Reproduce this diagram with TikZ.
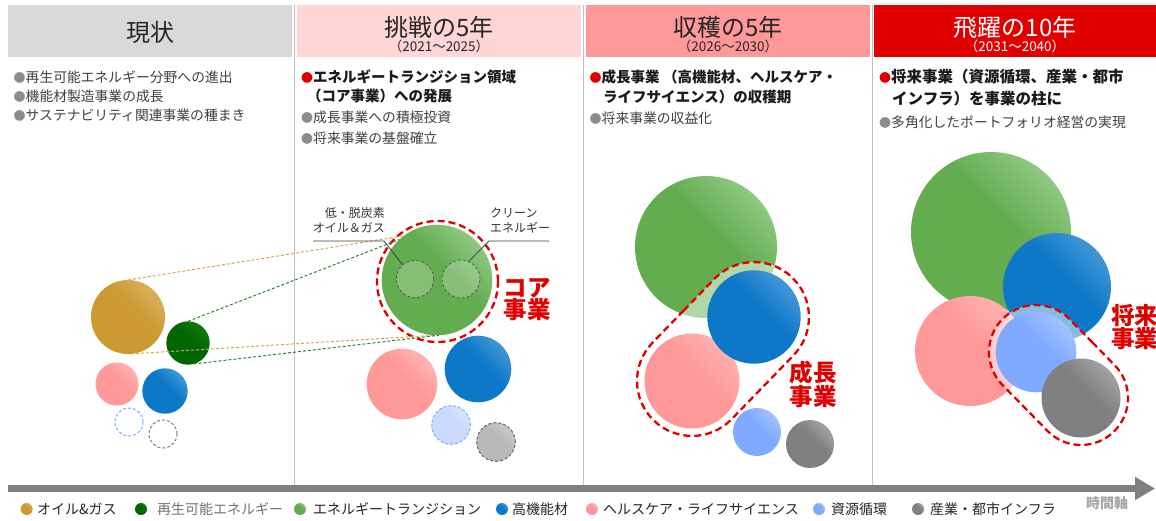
\documentclass[tikz,border=0pt]{standalone}
\usepackage{fontspec}
\setmainfont{Noto Sans CJK JP}
\usetikzlibrary{shapes.misc,arrows.meta}
\definecolor{cGold}{HTML}{CC9933}\definecolor{cGoldL}{HTML}{E8CC90}
\definecolor{cDg}{HTML}{006600}\definecolor{cDgL}{HTML}{279627}
\definecolor{cEt}{HTML}{63AD50}\definecolor{cEtL}{HTML}{C8EDC2}
\definecolor{cBl}{HTML}{0E78C8}\definecolor{cBlL}{HTML}{86C0EA}
\definecolor{cPk}{HTML}{FF9999}\definecolor{cPkL}{HTML}{FFD4D4}
\definecolor{cLb}{HTML}{7FAAFF}\definecolor{cLbL}{HTML}{D2E0FF}
\definecolor{cGy}{HTML}{808080}\definecolor{cGyL}{HTML}{CFCFCF}
\definecolor{cRed}{HTML}{E00000}
\definecolor{cH1}{HTML}{D9D9D9}\definecolor{cH2}{HTML}{FFD5D5}
\definecolor{cH3}{HTML}{FF9999}\definecolor{cH4}{HTML}{E00000}
\definecolor{cText}{HTML}{404040}\definecolor{cBold}{HTML}{1A1A1A}
\definecolor{cBul}{HTML}{8C8C8C}\definecolor{cSep}{HTML}{BFBFBF}
\colorlet{ballA}{cGold}\colorlet{ballB}{cGoldL}
\pgfdeclareverticalshading[ballA,ballB]{ballsh}{100bp}{color(0bp)=(ballA); color(56bp)=(ballA); color(100bp)=(ballB)}
\newcommand\setfs[1]{\fontsize{#1}{#1}\selectfont}
\newcommand\bulx[1]{{\color{#1}\fontsize{12}{12}\selectfont ●}}
\begin{document}
\begin{tikzpicture}[x=1pt,y=-1pt,
  ball/.style 2 args={circle, inner sep=0pt, outer sep=0pt, /utils/exec={\colorlet{ballA}{#1}\colorlet{ballB}{#2}}, shade, shading=ballsh, shading angle=-45},
  rad/.style={minimum size=2*#1},
  hbox/.style={rectangle, inner sep=0pt, minimum height=52, minimum width=284},
  htitle/.style={anchor=base, inner sep=0pt, font=\setfs{24}, text=black!85},
  hsub/.style={anchor=base, inner sep=0pt, font=\setfs{13.5}, text=black!85},
  txt/.style={anchor=base west, inner sep=0pt, text=cText, font=\setfs{13.8}},
  btxt/.style={anchor=base west, inner sep=0pt, text=cBold, font=\setfs{14.5}\bfseries},
  redlbl/.style={inner sep=0pt, text=cRed, align=center, font=\fontsize{23.5}{22}\selectfont\bfseries},
  smlbl/.style={inner sep=0pt, text=black!80, font=\fontsize{12}{15}\selectfont},
  reddash/.style={draw=cRed, line width=2.3pt, dash pattern=on 7pt off 4pt},
  capsule/.style={rounded rectangle, inner sep=0pt, reddash, fill=white, fill opacity=0.5},
  gline/.style={draw=cGold!85, line width=1pt, dash pattern=on 3pt off 2pt},
  grline/.style={draw=cDg!80, line width=1pt, dash pattern=on 3pt off 2pt},
  ldash/.style={dash pattern=on 3pt off 2pt, line width=1pt},
  legtxt/.style={anchor=base west, inner sep=0pt, text=black!85, font=\setfs{14}},
  sepline/.style={draw=cSep, line width=1pt}
]
\useasboundingbox (0,0) rectangle (1156,520);
\fill[white] (0,0) rectangle (1156,520);

% headers
\node[hbox, fill=cH1] (h1) at (150,31) {};
\node[hbox, fill=cH2] (h2) at (439,31) {};
\node[hbox, fill=cH3] (h3) at (728,31) {};
\node[hbox, fill=cH4, minimum width=282] (h4) at (1015,31) {};
\node[htitle] (ht1) at (150,41.5) {現状};
\node[htitle] (ht2) at (439,36.5) {挑戦の5年};
\node[hsub] (hs2) at (439,51.5) {（2021～2025）};
\node[htitle] (ht3) at (728,36.5) {収穫の5年};
\node[hsub] (hs3) at (728,51.5) {（2026～2030）};
\node[htitle, text=white] (ht4) at (1015,36.5) {飛躍の10年};
\node[hsub, text=white] (hs4) at (1015,51.5) {（2031～2040）};

% separators
\draw[sepline] (294,5) -- (294,485);
\draw[sepline] (583,5) -- (583,485);
\draw[sepline] (872,5) -- (872,485);

% column texts
\node[txt] (c1a) at (13.5,82.5) {\bulx{cBul}再生可能エネルギー分野への進出};
\node[txt] (c1b) at (13.5,101.5) {\bulx{cBul}機能材製造事業の成長};
\node[txt] (c1c) at (13.5,120.5) {\bulx{cBul}サステナビリティ関連事業の種まき};

\node[btxt] (c2a) at (301,82) {\bulx{cRed}エネルギートランジション領域};
\node[btxt] (c2b) at (307,101) {（コア事業）への発展};
\node[txt] (c2c) at (301,122) {\bulx{cBul}成長事業への積極投資};
\node[txt] (c2d) at (301,143) {\bulx{cBul}将来事業の基盤確立};

\node[btxt] (c3a) at (589.5,82) {\bulx{cRed}成長事業 （高機能材、ヘルスケア・};
\node[btxt] (c3b) at (603,102.5) {ライフサイエンス）の収穫期};
\node[txt] (c3c) at (589.5,123) {\bulx{cBul}将来事業の収益化};

\node[btxt, font=\setfs{15.5}\bfseries] (c4a) at (879,82.5) {\bulx{cRed}将来事業（資源循環、産業・都市};
\node[btxt, font=\setfs{15.5}\bfseries] (c4b) at (892,104) {インフラ）を事業の柱に};
\node[txt] (c4c) at (879,127) {\bulx{cBul}多角化したポートフォリオ経営の実現};

% column 1 circles
\node[ball={cGold}{cGoldL}, rad=37] (gold1) at (128,317) {};
\node[ball={cDg}{cDgL}, rad=21.7] (dg1) at (188,343) {};
\node[ball={cPk}{cPkL}, rad=21.5] (pk1) at (117,384) {};
\node[ball={cBl}{cBlL}, rad=22.7] (bl1) at (165,391) {};
\node[circle, inner sep=0pt, rad=14, draw=cLb, ldash] (lb1) at (129,422) {};
\node[circle, inner sep=0pt, rad=14, draw=cGy, ldash] (gy1) at (163,434) {};

% column 2 circles
\node[circle, inner sep=0pt, rad=60.5, reddash, fill=white] (core) at (437.5,281.5) {};
\node[ball={cEt}{cEtL}, rad=55.3] (g2) at (437,280) {};
\node[circle, inner sep=0pt, rad=18.7, draw=black!65, ldash, line width=0.8pt, fill=white, fill opacity=0.22] (sc1) at (415,279) {};
\node[circle, inner sep=0pt, rad=19, draw=black!65, ldash, line width=0.8pt, fill=white, fill opacity=0.22] (sc2) at (461,279) {};
\node[ball={cPk}{cPkL}, rad=35.3] (pk2) at (402,384) {};
\node[ball={cBl}{cBlL}, rad=33.3] (bl2) at (478,369) {};
\node[ball={cLbL!90!cLb}{cLbL!40}, rad=19.3, draw=cLb, ldash] (lb2) at (451,425) {};
\node[ball={cGy!55}{cGy!25}, rad=19.3, draw=black!60, ldash] (gy2) at (496,442) {};

% connectors col1 -> col2
\draw[gline] (gold1.north) -- (g2.127);
\draw[gline] (gold1.-85) -- (g2.-92);
\draw[grline] (dg1.north) -- (g2.133);
\draw[grline] (dg1.-75) -- (g2.-88);

% labels in col 2
\node[smlbl, align=right, anchor=east] (lab1) at (385,220.5) {低・脱炭素\\オイル＆ガス};
\node[smlbl, align=left, anchor=west] (lab2) at (490,220.5) {クリーン\\エネルギー};
\coordinate (u1s) at (313,241);
\coordinate (u1e) at (384,241);
\coordinate (u2s) at (549,241);
\coordinate (u2e) at (489,241);
\draw[black!75, line width=0.8pt] (u1s) -- (u1e) -- (sc1.131);
\draw[black!75, line width=0.8pt] (u2s) -- (u2e) -- (sc2.66);
\node[redlbl] (core-lbl) at (527,300) {コア\\事業};

% column 3
\node[ball={cEt}{cEtL}, rad=71] (g3) at (706,247) {};
\node[capsule, minimum width=199, minimum height=110, rotate=45.9] (cap3) at (723,349) {};
\node[ball={cPk}{cPkL}, rad=47.5] (pk3) at (692,381) {};
\node[ball={cBl}{cBlL}, rad=46.7] (bl3) at (754,317) {};
\node[ball={cLb}{cLbL}, rad=24] (lb3) at (757,432) {};
\node[ball={cGy}{cGyL}, rad=24] (gy3) at (810,444) {};
\node[redlbl] (grow-lbl) at (813,384.5) {成長\\事業};

% column 4
\node[ball={cEt}{cEtL}, rad=80] (g4) at (991,232) {};
\node[ball={cBl}{cBlL}, rad=54] (bl4) at (1057,287) {};
\node[ball={cPk}{cPkL}, rad=55] (pk4) at (970,351) {};
\node[capsule, minimum width=158.4, minimum height=94, rotate=-45.6] (cap4) at (1058.5,375) {};
\node[ball={cLb}{cLbL}, rad=40.3] (lb4) at (1036,352) {};
\node[ball={cGy}{cGyL}, rad=39.5] (gy4) at (1081,398) {};
\node[redlbl, anchor=west, font=\fontsize{23.5}{21}\selectfont\bfseries] (fut-lbl) at (1111,327) {将来\\事業};

% time axis
\coordinate (axS) at (8,488.5);
\coordinate (axE) at (1155,488.5);
\draw[cGy, line width=7pt, -{Triangle[length=20pt,width=22pt]}] (axS) -- (axE);
\node[inner sep=0pt, text=black!35, font=\setfs{14}\bfseries] (axl) at (1107,503) {時間軸};

% legend
\node[ball={cGold}{cGoldL}, rad=6] (l1) at (26.7,509) {};
\node[legtxt] (lt1) at (37,514) {オイル\&ガス};
\node[ball={cDg}{cDgL}, rad=6] (l2) at (141,509) {};
\node[legtxt, text=black!55] (lt2) at (157,514) {再生可能エネルギー};
\node[ball={cEt}{cEtL}, rad=6] (l3) at (300,509) {};
\node[legtxt] (lt3) at (313,514) {エネルギートランジション};
\node[ball={cBl}{cBlL}, rad=6] (l4) at (502,509) {};
\node[legtxt] (lt4) at (512,514) {高機能材};
\node[ball={cPk}{cPkL}, rad=6] (l5) at (592,509) {};
\node[legtxt] (lt5) at (603,514) {ヘルスケア・ライフサイエンス};
\node[ball={cLb}{cLbL}, rad=6] (l6) at (819,509) {};
\node[legtxt] (lt6) at (831,514) {資源循環};
\node[ball={cGy}{cGyL}, rad=6] (l7) at (918,509) {};
\node[legtxt] (lt7) at (930,514) {産業・都市インフラ};
\end{tikzpicture}
\end{document}
